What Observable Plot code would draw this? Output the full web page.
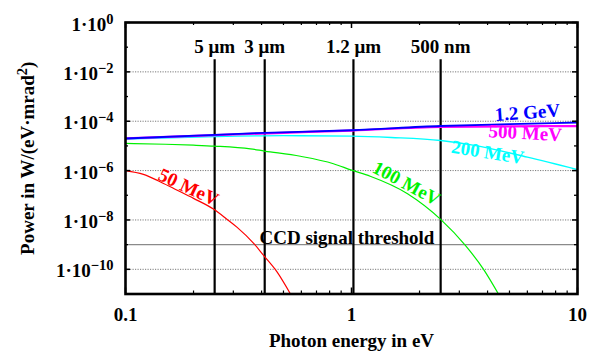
<!DOCTYPE html>
<html><head><meta charset="utf-8">
<script src="https://cdn.jsdelivr.net/npm/d3@7"></script>
<script src="https://cdn.jsdelivr.net/npm/@observablehq/plot@0.6"></script>
<style>html,body{margin:0;padding:0;background:#fff}</style>
</head><body><div id="chart"></div>
<script>
// ---- data (photon energy in eV, power in W/(eV·mrad²)) ----
const e1200 = [0.1, 0.248, 0.412, 1, 2.48, 5, 10];
const p1200 = [2.0e-5, 2.8e-5, 3.4e-5, 4.3e-5, 6.4e-5, 7.6e-5, 8.9e-5];
const e500 = [0.1, 0.25, 0.5, 1, 2.48, 5, 7, 10];
const p500 = [2.0e-5, 2.75e-5, 3.4e-5, 4.2e-5, 5.9e-5, 6.2e-5, 6.3e-5, 6.3e-5];
const e200 = [0.1, 0.25, 0.5, 1, 1.5, 2.48, 3.5, 6, 10];
const p200 = [1.9e-5, 2.4e-5, 2.6e-5, 2.5e-5, 2.2e-5, 1.66e-5, 1.05e-5, 3.5e-6, 1.1e-6];
const e100 = [0.1, 0.15, 0.2, 0.248, 0.357, 0.412, 0.594, 0.832, 1, 1.21, 1.77, 2.48, 3.19, 3.84, 4.47];
const p100 = [1.26e-5, 1.17e-5, 1.07e-5, 9.8e-6, 7.6e-6, 6.2e-6, 3.8e-6, 1.9e-6, 1.04e-6, 5.9e-7, 1.15e-7, 1.05e-8, 9.3e-10, 1.0e-10, 1e-11];
const e50 = [0.1, 0.12, 0.14, 0.165, 0.2, 0.246, 0.28, 0.312, 0.37, 0.409, 0.469, 0.537];
const p50 = [1.0e-6, 7e-7, 3.8e-7, 1.8e-7, 7.5e-8, 2.7e-8, 1.1e-8, 5e-9, 1.1e-9, 3.6e-10, 7.7e-11, 1e-11];

const seriesNames = ["50 MeV", "100 MeV", "200 MeV", "500 MeV", "1.2 GeV"];
const seriesColors = ["#ff0000", "#00f000", "#00ffff", "#ff00ff", "#0000ff"];
const seriesE = [e50, e100, e200, e500, e1200];
const seriesP = [p50, p100, p200, p500, p1200];
// curve label anchors (data coords) and rotation
const labelE = [0.19, 1.75, 4.0, 5.87, 6.0];
const labelP = [2.1e-7, 3.0e-7, 5.4e-6, 3.3e-5, 2.24e-4];
const labelAngle = [25, 28, 9, 3, -4];

// wavelength markers
const wlLabels = ["5 μm", "3 μm", "1.2 μm", "500 nm"];
const wlEnergy = [0.248, 0.413, 1.02, 2.48];
const wlTop = [0.031];
const wlLabelLevel = [0.1];

// CCD threshold
const ccdLevel = [1e-9];
const ccdLabel = ["CCD signal threshold"];
const ccdLabelE = [0.955];

// axes
const xDomain = [0.1, 10];
const yDomain = [1e-11, 1];
const xMajor = [0.1, 1, 10];
const xTickLabels = ["0.1", "1", "10"];
const xMinor = [0.2,0.3,0.4,0.5,0.6,0.7,0.8,0.9,2,3,4,5,6,7,8,9];
const yMajor = [1, 1e-2, 1e-4, 1e-6, 1e-8, 1e-10];
const yExponents = ["0", "−2", "−4", "−6", "−8", "−10"];
const yMinor = [1e-1, 1e-3, 1e-5, 1e-7, 1e-9];
const gridLevels = [1e-2, 1e-4, 1e-6, 1e-8, 1e-10];
const xTitle = "Photon energy in eV";
const yTitle = "Power in W/(eV·mrad^{2})";

// ---- layout ----
const W = 589, H = 351, mL = 125, mR = 12, mT = 22, mB = 57.5;
const innerW = W - mL - mR, innerH = H - mT - mB;
const FONT = "Liberation Serif, Times New Roman, serif";
const FS = 19;

const marks = [
  Plot.ruleY(gridLevels, {stroke: "#7a7a7a", strokeWidth: 1, strokeDasharray: "1.2,1.3"}),
  Plot.ruleY(ccdLevel, {stroke: "#8a8a8a", strokeWidth: 1.3}),
  Plot.ruleX(wlEnergy, {x: d => d, y1: yDomain[0], y2: wlTop[0], stroke: "black", strokeWidth: 2.2}),
];
const widths = [1.2, 1.2, 1.4, 2.2, 1.8];
seriesNames.forEach((name, i) => {
  const data = seriesE[i].map((e, j) => ({e, p: seriesP[i][j]}));
  marks.push(Plot.line(data, {x: "e", y: "p", stroke: seriesColors[i], strokeWidth: widths[i], curve: "monotone-x", clip: true}));
});
seriesNames.forEach((name, i) => {
  marks.push(Plot.text([name], {x: () => labelE[i], y: () => labelP[i], text: d => d, rotate: labelAngle[i],
    fill: seriesColors[i], fontSize: FS, fontWeight: "bold", fontFamily: FONT, textAnchor: "middle", lineAnchor: "middle"}));
});
marks.push(
  Plot.text(wlLabels, {x: (d, i) => wlEnergy[i], y: () => wlLabelLevel[0], text: d => d, fontSize: FS, fontWeight: "bold", fontFamily: FONT, fill: "black", lineAnchor: "middle"}),
  Plot.text(ccdLabel, {x: () => ccdLabelE[0], y: () => ccdLevel[0], text: d => d, dy: -1, fontSize: FS, fontWeight: "bold", fontFamily: FONT, fill: "black", lineAnchor: "bottom"}),
  // inward ticks
  Plot.tickY(yMajor, {y: d => d, insetRight: innerW - 5, strokeWidth: 1.5}),
  Plot.tickY(yMajor, {y: d => d, insetLeft: innerW - 5, strokeWidth: 1.5}),
  Plot.tickY(yMinor, {y: d => d, insetRight: innerW - 3, strokeWidth: 1.3}),
  Plot.tickY(yMinor, {y: d => d, insetLeft: innerW - 3, strokeWidth: 1.3}),
  Plot.tickX(xMajor, {x: d => d, insetTop: innerH - 6, strokeWidth: 1.5}),
  Plot.tickX(xMajor, {x: d => d, insetBottom: innerH - 6, strokeWidth: 1.5}),
  Plot.tickX(xMinor, {x: d => d, insetTop: innerH - 3, strokeWidth: 1.2}),
  Plot.tickX(xMinor, {x: d => d, insetBottom: innerH - 3, strokeWidth: 1.2}),
  Plot.frame({stroke: "black", strokeWidth: 2.6}),
  Plot.axisY(yMajor, {tickSize: 0, tickPadding: 12, label: null, dy: 2,
    tickFormat: (d) => "1·10^{" + yExponents[yMajor.indexOf(d)] + "}", fontSize: FS, fontWeight: "bold", fontFamily: FONT}),
  Plot.axisX(xMajor, {tickSize: 0, tickPadding: 13, label: null,
    tickFormat: (d) => xTickLabels[xMajor.indexOf(d)], fontSize: FS, fontWeight: "bold", fontFamily: FONT}),
  Plot.text([xTitle], {frameAnchor: "bottom", dy: 52.5, textAnchor: "middle", lineAnchor: "bottom", fontSize: FS, fontWeight: "bold", fontFamily: FONT, fill: "black"}),
  Plot.text([yTitle], {frameAnchor: "left", dx: -98, rotate: -90, textAnchor: "middle", lineAnchor: "middle", fontSize: FS, fontWeight: "bold", fontFamily: FONT, fill: "black"})
);

const chart = Plot.plot({
  width: W, height: H,
  marginLeft: mL, marginRight: mR, marginTop: mT, marginBottom: mB,
  style: {fontFamily: FONT, fontSize: FS + "px", fontWeight: "bold", background: "white", color: "black"},
  x: {type: "log", domain: xDomain},
  y: {type: "log", domain: yDomain},
  marks
});

// superscripts as real tspans
function superscripts(svg) {
  const ns = "http://www.w3.org/2000/svg";
  svg.querySelectorAll("text").forEach(el => {
    const t = el.textContent;
    if (!t.includes("^{")) return;
    const re = /\^\{([^}]*)\}/g;
    el.textContent = "";
    let last = 0, m, pending = 0;
    const add = (s, attrs) => {
      const ts = document.createElementNS(ns, "tspan");
      ts.textContent = s;
      for (const k in attrs) ts.setAttribute(k, attrs[k]);
      el.appendChild(ts);
    };
    const shift = 7;
    while ((m = re.exec(t))) {
      if (m.index > last) { add(t.slice(last, m.index), pending ? {dy: pending} : {}); pending = 0; }
      add(m[1], {dy: -shift + pending, "font-size": 14.5});
      pending = shift;
      last = re.lastIndex;
    }
    if (last < t.length) add(t.slice(last), pending ? {dy: pending, "font-size": FS} : {});
  });
}
superscripts(chart);
document.getElementById("chart").appendChild(chart);
</script>
</body></html>
